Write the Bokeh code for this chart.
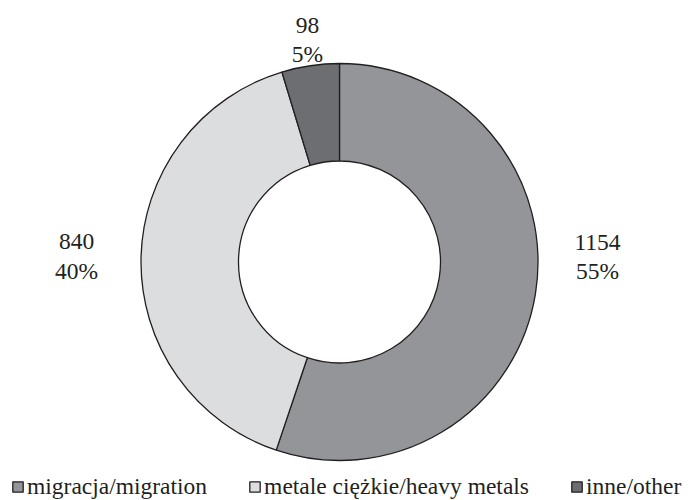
import numpy as np
from bokeh.plotting import figure
from bokeh.models import ColumnDataSource, Range1d
from bokeh.core.properties import value
from bokeh.embed import file_html
from bokeh.resources import INLINE

# Waste categories and counts
labels = ["migracja/migration", "metale ciężkie/heavy metals", "inne/other"]
counts = [1154, 840, 98]
colors = ["#939598", "#dcdddf", "#6d6e71"]

FONT = value("Liberation Serif")
FS = "23.5px"

W, H = 690, 500
cx, cy = 339, 500 - 261.5
r_out, r_in = 198.5, 101

total = sum(counts)
frac = np.array(counts) / total
ends = np.pi / 2 - 2 * np.pi * np.cumsum(frac)
starts = np.concatenate([[np.pi / 2], ends[:-1]])
pct = [f"{round(f * 100)}%" for f in frac]

# label anchor positions (screen-space centres of the two text lines)
lab_x = [597, 76, 307]
lab_y_val = [H - 242, H - 241, H - 25]
lab_y_pct = [H - 270, H - 270, H - 53]

src = ColumnDataSource(dict(
    label=labels, count=counts, color=colors, start=starts, end=ends,
    cnt_txt=[str(c) for c in counts], pct=pct,
    lx=lab_x, ly1=lab_y_val, ly2=lab_y_pct,
))

p = figure(width=W, height=H, output_backend="svg", toolbar_location=None,
           x_range=Range1d(0, W), y_range=Range1d(0, H), min_border=0)
p.axis.visible = False
p.grid.visible = False
p.outline_line_color = None
p.background_fill_color = "white"

p.annular_wedge(x=cx, y=cy, inner_radius=r_in, outer_radius=r_out,
                start_angle="start", end_angle="end", direction="clock",
                fill_color="color", line_color="#231f20", line_width=1.3,
                source=src, legend_field="label")

p.text(x="lx", y="ly1", text="cnt_txt", source=src, text_font=FONT,
       text_font_size=FS, text_align="center", text_baseline="middle",
       text_color="#231f20")
p.text(x="lx", y="ly2", text="pct", source=src, text_font=FONT,
       text_font_size=FS, text_align="center", text_baseline="middle",
       text_color="#231f20")

lg = p.legend[0]
lg.orientation = "horizontal"
lg.location = (11, 0)
lg.padding = 0
lg.margin = 0
lg.spacing = 41
lg.glyph_width = 13
lg.glyph_height = 13
lg.label_standoff = 3
lg.label_height = 13
lg.label_text_font = "Liberation Serif"
lg.label_text_font_size = FS
lg.label_text_color = "#231f20"
lg.border_line_color = None
lg.background_fill_alpha = 0

open("out.html", "w").write(file_html(p, INLINE))
